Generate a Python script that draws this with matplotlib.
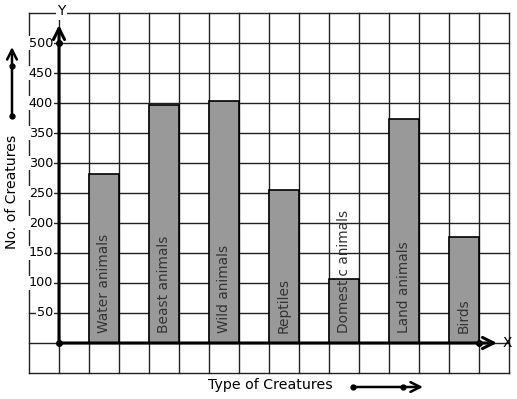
import matplotlib.pyplot as plt

# Data
categories = ['Water animals', 'Beast animals', 'Wild animals', 'Reptiles',
              'Domestic animals', 'Land animals', 'Birds']
values = [281, 396, 403, 255, 106, 373, 176]
ytick_values = [50, 100, 150, 200, 250, 300, 350, 400, 450, 500]

plt.rcParams.update({
    "font.family": "DejaVu Sans",
})

fig = plt.figure(figsize=(5.17, 3.99), dpi=100)
ax = fig.add_axes([0, 0, 1, 1])
# 1 x-unit = one grid cell (30 px), 50 y-units = one grid cell (30 px)
ax.set_xlim(-59 / 30, (517 - 59) / 30)
ax.set_ylim((343 - 399) / 0.6, 343 / 0.6)
ax.axis('off')

grid_kw = dict(color='#222222', lw=1.0, zorder=1)
for gx in range(-1, 16):
    ax.plot([gx, gx], [-50, 550], **grid_kw)
for gy in range(-50, 551, 50):
    ax.plot([-1, 15], [gy, gy], **grid_kw)

# bars
xpos = [2 * i + 1.5 for i in range(len(categories))]
ax.bar(xpos, values, width=1.0, color='#999999', edgecolor='black',
       linewidth=1.2, zorder=2)
for x, name in zip(xpos, categories):
    ax.text(x, 16, name, rotation=90, ha='center', va='bottom',
            fontsize=9.9, color='#333333', zorder=4)

# axes with arrows
arrow = dict(arrowstyle='->, head_length=0.5, head_width=0.25', lw=2.2,
             color='black', mutation_scale=16, shrinkA=0, shrinkB=0)
ax.annotate('', xy=(0, 530), xytext=(0, 0), arrowprops=arrow, zorder=5)
ax.annotate('', xy=(14.6, 0), xytext=(0, 0), arrowprops=arrow, zorder=5)
ax.plot([0, 0, 14], [500, 0, 0], 'o', color='black', ms=4, zorder=6)
ax.text(0.07, 553, 'Y', ha='center', va='center', fontsize=9.9,
        bbox=dict(facecolor='white', edgecolor='none', pad=1.0), zorder=6)
ax.text(14.95, 0, 'X', ha='center', va='center', fontsize=9.9, zorder=6)

# y tick labels
for v in ytick_values:
    ax.text(-0.2, v, str(v), ha='right', va='center', fontsize=9.2,
            bbox=dict(facecolor='white', edgecolor='none', pad=0.5), zorder=3)

# axis titles with decorative arrows
ax.text(-1.567, (343 - 192) / 0.6, 'No. of Creatures', rotation=90,
        ha='center', va='center', fontsize=10.1)
small = dict(arrowstyle='->, head_length=0.5, head_width=0.25', lw=1.8,
             color='black', mutation_scale=14, shrinkA=0, shrinkB=0)
ax.annotate('', xy=(-1.567, (343 - 47) / 0.6), xytext=(-1.567, (343 - 116) / 0.6),
            arrowprops=small)
ax.plot([-1.567, -1.567], [(343 - 116) / 0.6, (343 - 66) / 0.6], 'o',
        color='black', ms=3.5)

ax.text((270 - 59) / 30, (343 - 385) / 0.6, 'Type of Creatures',
        ha='center', va='center', fontsize=10.2)
ax.annotate('', xy=((423 - 59) / 30, (343 - 387) / 0.6),
            xytext=((353 - 59) / 30, (343 - 387) / 0.6), arrowprops=small)
ax.plot([(353 - 59) / 30, (403 - 59) / 30], [(343 - 387) / 0.6] * 2, 'o',
        color='black', ms=3.5)

plt.savefig('out.png', dpi=100)
